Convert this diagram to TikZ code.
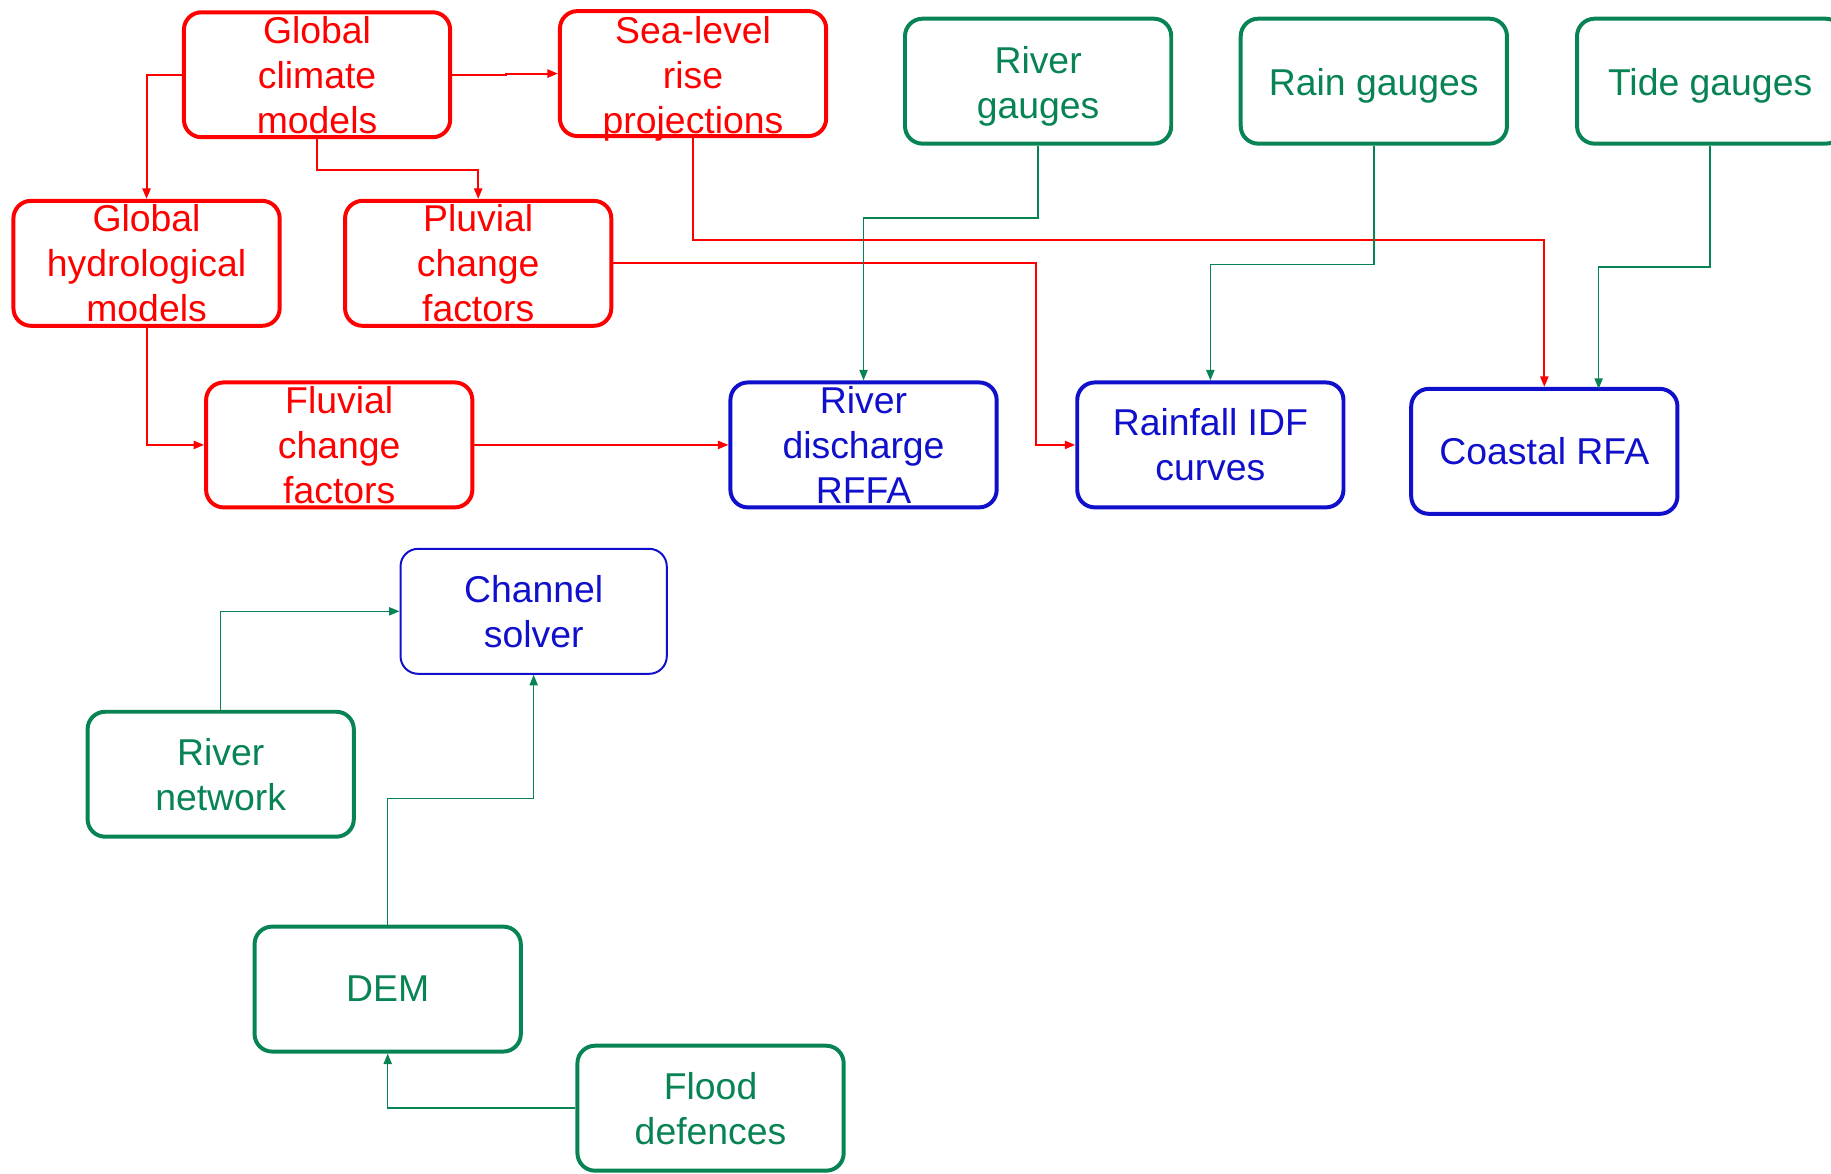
\documentclass[tikz,border=0pt]{standalone}
\usepackage{fontspec}
\setmainfont{Liberation Sans}
\usetikzlibrary{arrows.meta}
\definecolor{modelred}{RGB}{255,0,0}
\definecolor{outblue}{RGB}{16,16,204}
\definecolor{datagreen}{RGB}{8,132,84}
% invisible rule that gives a first line extra height
\newcommand\tallfirst{\rule{0pt}{31.5pt}}
\begin{document}
\begin{tikzpicture}[x=1pt,y=-1pt,
  box/.style={draw, rounded corners=15pt, minimum width=228pt, minimum height=107pt,
    inner sep=0pt, align=center, font=\fontsize{32}{38.5}\selectfont, line width=3.4pt},
  modelbox/.style={box, draw=modelred, text=modelred},
  outbox/.style={box, draw=outblue, text=outblue},
  databox/.style={box, draw=datagreen, text=datagreen},
  link/.style={-{Triangle[length=9pt,width=7pt]}},
  redlink/.style={link, draw=modelred, line width=1.7pt},
  greenlink/.style={link, draw=datagreen, line width=1.3pt}]
\useasboundingbox (0,0) rectangle (1568,1005);
\clip (0,0) rectangle (1568,1005);

% climate model chain
\node[modelbox] (gcm) at (271.5,64) {Global\\climate\\models};
\node[modelbox, inner ysep=-5pt] (slr) at (593.5,63) {\tallfirst Sea-level\\rise\\projections};
\node[modelbox] (ghm) at (125.5,225.5) {Global\\hydrological\\models};
\node[modelbox] (pluv) at (409.5,225.5) {Pluvial\\change\\factors};
\node[modelbox] (fluv) at (290.5,381) {Fluvial\\change\\factors};

% frequency analyses
\node[outbox] (rffa) at (739.5,381) {River\\discharge\\RFFA};
\node[outbox] (idf) at (1036.5,381) {Rainfall IDF\\curves};
\node[outbox] (crfa) at (1322.5,386.5) {Coastal RFA};
\node[outbox, line width=1.7pt] (chan) at (457,523.5) {Channel\\solver};

% observations and terrain data
\node[databox] (rivg) at (889,69.5) {\tallfirst River\\gauges};
\node[databox] (raing) at (1176.5,69.5) {\tallfirst Rain gauges};
\node[databox] (tideg) at (1464.5,69.5) {\tallfirst Tide gauges};
\node[databox] (rnet) at (189,663) {River\\network};
\node[databox] (dem) at (332,847) {DEM};
\node[databox] (flood) at (608.5,949) {Flood\\defences};

% red connectors
\draw[redlink] (gcm.west) -| (ghm.north);
\draw[redlink] (gcm.east) -- ++(46,0) |- (slr.west);
\draw[redlink] (gcm.south) -- ++(0,26) -| (pluv.north);
\draw[redlink] (slr.south) -- ++(0,87) -| (crfa.north);
\draw[redlink] (pluv.east) -- ++(362,0) |- (idf.west);
\draw[redlink] (ghm.south) |- (fluv.west);
\draw[redlink] (fluv.east) -- (rffa.west);

% green connectors
\draw[greenlink] (rivg.south) -- ++(0,62) -| (rffa.north);
\draw[greenlink] (raing.south) -- ++(0,102) -| (idf.north);
\coordinate (crfain) at (1369,333);
\draw[greenlink] (tideg.south) -- ++(0,104) -| (crfain);
\draw[greenlink] (rnet.north) |- (chan.west);
\draw[greenlink] (dem.north) -- ++(0,-108) -| (chan.south);
\draw[greenlink] (flood.west) -| (dem.south);
\end{tikzpicture}
\end{document}
